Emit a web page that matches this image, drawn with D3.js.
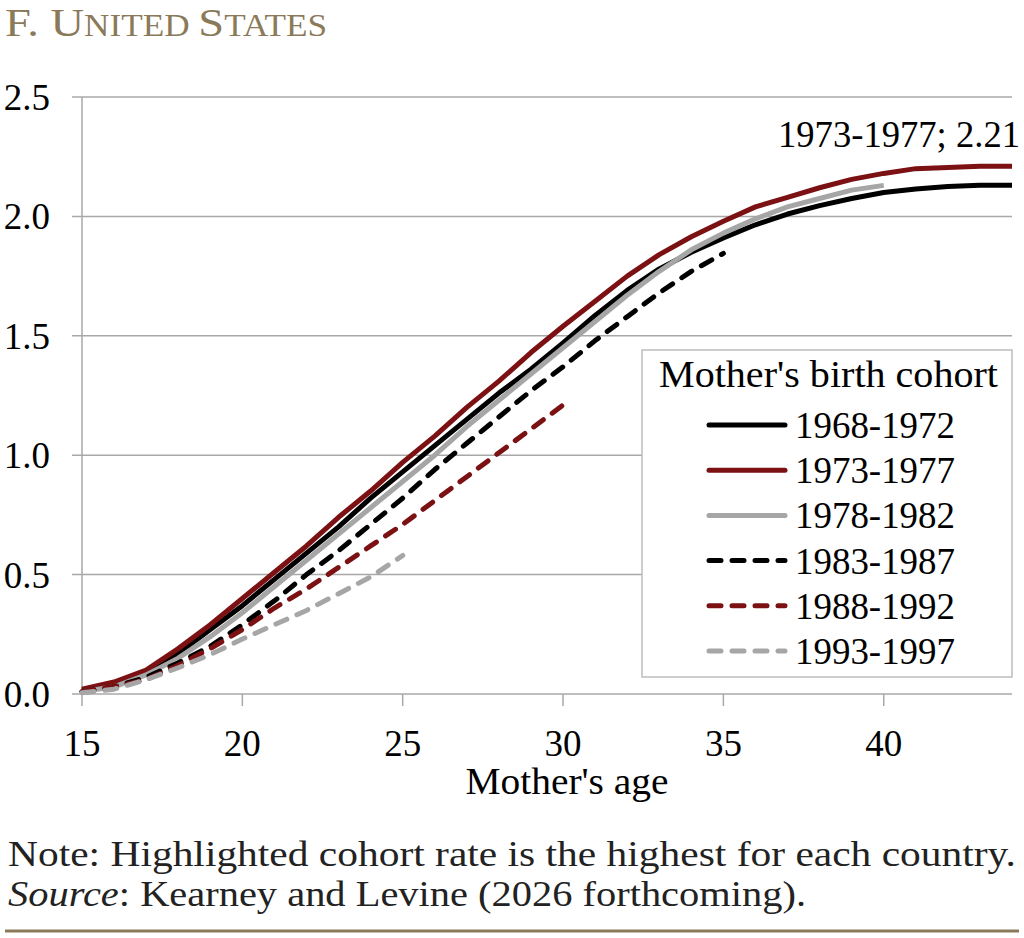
<!DOCTYPE html>
<html>
<head>
<meta charset="utf-8">
<script src="https://cdn.jsdelivr.net/npm/d3@7"></script>
<style>
  body { margin: 0; background: #fff; }
  svg { display: block; }
</style>
</head>
<body>
<div id="chart"></div>
<script>
// cohort data: completed fertility by mother's age
const cohorts = ['1968-1972', '1973-1977', '1978-1982', '1983-1987', '1988-1992', '1993-1997'];
const startAge = 15;
const c1968 = [0.015, 0.04, 0.09, 0.17, 0.27, 0.37, 0.48, 0.59, 0.70, 0.82, 0.93, 1.04, 1.15, 1.26, 1.36, 1.47, 1.585, 1.69, 1.78, 1.85, 1.91, 1.965, 2.01, 2.045, 2.075, 2.10, 2.115, 2.125, 2.13, 2.13];
const c1973 = [0.02, 0.05, 0.10, 0.19, 0.29, 0.40, 0.51, 0.62, 0.74, 0.85, 0.97, 1.08, 1.20, 1.31, 1.43, 1.54, 1.645, 1.75, 1.84, 1.915, 1.98, 2.04, 2.08, 2.12, 2.155, 2.18, 2.20, 2.205, 2.21, 2.21];
const c1978 = [0.01, 0.03, 0.08, 0.15, 0.24, 0.34, 0.45, 0.56, 0.67, 0.78, 0.89, 1.00, 1.12, 1.23, 1.34, 1.45, 1.56, 1.67, 1.77, 1.86, 1.93, 1.99, 2.04, 2.075, 2.11, 2.13];
const c1983 = [0.01, 0.03, 0.07, 0.13, 0.20, 0.29, 0.39, 0.50, 0.60, 0.71, 0.82, 0.94, 1.05, 1.16, 1.27, 1.37, 1.48, 1.58, 1.68, 1.77, 1.845];
const c1988 = [0.01, 0.03, 0.06, 0.12, 0.19, 0.27, 0.36, 0.44, 0.53, 0.62, 0.71, 0.81, 0.91, 1.01, 1.11, 1.21];
const c1993 = [0.005, 0.02, 0.06, 0.11, 0.165, 0.23, 0.29, 0.35, 0.42, 0.49, 0.58];
const xTicks = [15, 20, 25, 30, 35, 40];
const yTicks = [0, 0.5, 1.0, 1.5, 2.0, 2.5];
const highlight = { label: '1973-1977; 2.21' };

const seriesValues = [c1968, c1973, c1978, c1983, c1988, c1993];
const colors = ['#000000', '#7b1113', '#a6a6a6', '#000000', '#7b1113', '#a6a6a6'];
const dashed = [false, false, false, true, true, true];

const width = 1024, height = 938;
const margin = { top: 97, right: 12, bottom: 244, left: 82 };
const serif = '"Liberation Serif", "Times New Roman", serif';

const svg = d3.select('#chart').append('svg')
  .attr('width', width)
  .attr('height', height)
  .style('font-family', serif);

const x = d3.scaleLinear().domain([15, 44]).range([margin.left, width - margin.right]);
const y = d3.scaleLinear().domain([0, 2.5]).range([height - margin.bottom, margin.top]);

// title, small caps by hand
const title = svg.append('text')
  .attr('x', 5)
  .attr('y', 36)
  .style('fill', '#8a7a5a')
  .attr('textLength', 322)
  .attr('lengthAdjust', 'spacingAndGlyphs');
[['F. U', 41], ['NITED ', 31], ['S', 41], ['TATES', 31]].forEach(p => {
  title.append('tspan').style('font-size', p[1] + 'px').text(p[0]);
});

// gridlines
svg.append('g')
  .selectAll('line')
  .data(yTicks)
  .enter()
  .append('line')
  .attr('x1', margin.left - 10)
  .attr('x2', width - margin.right)
  .attr('y1', d => y(d))
  .attr('y2', d => y(d))
  .style('stroke', '#a8a8a8')
  .style('stroke-width', 1.5);

// y axis line
svg.append('line')
  .attr('x1', x(15)).attr('x2', x(15))
  .attr('y1', y(2.5)).attr('y2', y(0) + 12)
  .style('stroke', '#a8a8a8')
  .style('stroke-width', 1.5);

// x ticks
svg.append('g')
  .selectAll('line')
  .data(xTicks.slice(1))
  .enter()
  .append('line')
  .attr('x1', d => x(d)).attr('x2', d => x(d))
  .attr('y1', y(0)).attr('y2', y(0) + 12)
  .style('stroke', '#a8a8a8')
  .style('stroke-width', 1.5);

// tick labels
svg.append('g')
  .selectAll('text')
  .data(yTicks)
  .enter()
  .append('text')
  .attr('x', 50)
  .attr('y', d => y(d))
  .attr('dy', '0.35em')
  .attr('text-anchor', 'end')
  .style('font-size', '37px')
  .text(d => d3.format('.1f')(d));

svg.append('g')
  .selectAll('text')
  .data(xTicks)
  .enter()
  .append('text')
  .attr('x', d => x(d))
  .attr('y', 756)
  .attr('text-anchor', 'middle')
  .style('font-size', '37px')
  .text(d => d);

svg.append('text')
  .attr('x', 567)
  .attr('y', 794)
  .attr('text-anchor', 'middle')
  .style('font-size', '38px')
  .attr('textLength', 203)
  .attr('lengthAdjust', 'spacingAndGlyphs')
  .text("Mother's age");

// lines
const line = d3.line()
  .x((d, i) => x(startAge + i))
  .y(d => y(d));

svg.append('g')
  .selectAll('path')
  .data(seriesValues)
  .enter()
  .append('path')
  .attr('d', d => line(d))
  .style('fill', 'none')
  .style('stroke', (d, i) => colors[i])
  .style('stroke-width', 5)
  .style('stroke-linejoin', 'round')
  .style('stroke-linecap', (d, i) => dashed[i] ? 'round' : 'butt')
  .style('stroke-dasharray', (d, i) => dashed[i] ? '12,11' : null);

// highlight label
svg.append('text')
  .attr('x', 1020)
  .attr('y', 147)
  .attr('text-anchor', 'end')
  .style('font-size', '37px')
  .attr('textLength', 242)
  .attr('lengthAdjust', 'spacingAndGlyphs')
  .text(highlight.label);

// legend
const legend = svg.append('g');
legend.append('rect')
  .attr('x', 642).attr('y', 350)
  .attr('width', 370).attr('height', 327)
  .style('fill', '#fff')
  .style('stroke', '#bdbdbd')
  .style('stroke-width', 1.5);

legend.append('text')
  .attr('x', 659).attr('y', 387)
  .style('font-size', '37px')
  .attr('textLength', 339)
  .attr('lengthAdjust', 'spacingAndGlyphs')
  .text("Mother's birth cohort");

const item = legend.selectAll('g.item')
  .data(cohorts)
  .enter()
  .append('g')
  .attr('class', 'item')
  .attr('transform', (d, i) => `translate(0, ${425 + i * 45.2})`);

item.append('line')
  .attr('x1', 709).attr('x2', 785)
  .style('stroke', (d, i) => colors[i])
  .style('stroke-width', 5)
  .style('stroke-linecap', 'round')
  .style('stroke-dasharray', (d, i) => dashed[i] ? '12,11' : null);

item.append('text')
  .attr('x', 795)
  .attr('dy', '0.35em')
  .style('font-size', '37px')
  .attr('textLength', 160)
  .attr('lengthAdjust', 'spacingAndGlyphs')
  .text(d => d);

// note and source
svg.append('text')
  .attr('x', 8).attr('y', 866)
  .style('font-size', '36px')
  .style('fill', '#222')
  .attr('textLength', 1008)
  .attr('lengthAdjust', 'spacingAndGlyphs')
  .text('Note: Highlighted cohort rate is the highest for each country.');

const src = svg.append('text')
  .attr('x', 8).attr('y', 906)
  .style('font-size', '36px')
  .style('fill', '#222')
  .attr('textLength', 798)
  .attr('lengthAdjust', 'spacingAndGlyphs');
src.append('tspan').style('font-style', 'italic').text('Source');
src.append('tspan').text(': Kearney and Levine (2026 forthcoming).');

svg.append('line')
  .attr('x1', 5).attr('x2', 1019)
  .attr('y1', 931).attr('y2', 931)
  .style('stroke', '#8a7a5a')
  .style('stroke-width', 3);
</script>
</body>
</html>
